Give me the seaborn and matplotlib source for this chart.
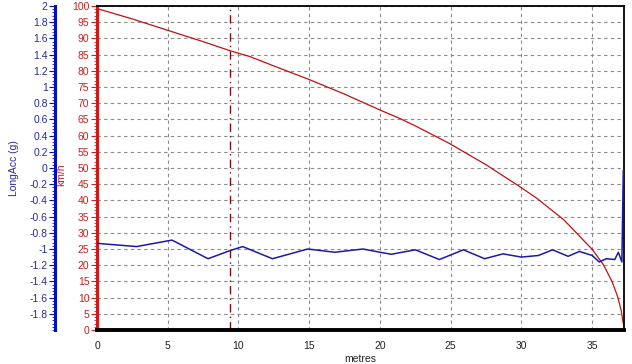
import matplotlib
matplotlib.use("Agg")
import matplotlib.pyplot as plt
from matplotlib.ticker import MultipleLocator, FuncFormatter
import seaborn as sns
import numpy as np
import pandas as pd

# speed trace (km/h) vs distance (m)
speed_dist = [0, 2.5, 5, 7.5, 9.4, 10.8, 12.5, 15, 17.5, 20, 21.4, 22.5, 24.9,
              27.5, 29.9, 31.1, 33, 35, 35.8, 36.4, 36.8, 37.05, 37.2]
speed_kmh = [99.2, 96.0, 92.5, 89.0, 86.2, 84.4, 81.5, 77.3, 72.8, 67.9, 65.3,
             63.0, 57.6, 51.0, 44.2, 40.6, 34.0, 24.9, 20.1, 15.0, 10.3, 6.0, 2.0]

# longitudinal acceleration (g) vs distance (m)
acc_dist = [0, 2.8, 5.3, 7.85, 9.4, 10.3, 12.4, 14.9, 16.8, 18.8, 20.0, 20.8,
            22.5, 24.2, 25.9, 27.4, 28.7, 30.0, 31.2, 32.2, 33.3, 34.1, 35.0,
            35.5, 36.0, 36.6, 36.85, 37.1, 37.2]
acc_g = [-0.93, -0.97, -0.89, -1.12, -1.02, -0.97, -1.12, -1.00, -1.04, -1.00,
         -1.04, -1.065, -1.01, -1.13, -1.01, -1.12, -1.06, -1.10, -1.08, -1.01,
         -1.09, -1.03, -1.08, -1.16, -1.12, -1.13, -1.04, -1.16, -0.03]

cursor_m = 9.4
x_ticks = [0, 5, 10, 15, 20, 25, 30, 35]
g_ticks = [-1.8, -1.6, -1.4, -1.2, -1, -0.8, -0.6, -0.4, -0.2, 0,
           0.2, 0.4, 0.6, 0.8, 1, 1.2, 1.4, 1.6, 1.8, 2]

sns.set_style("white")
plt.rcParams['font.family'] = ['Liberation Sans', 'DejaVu Sans']

red = "#cc1f1f"
blue = "#1a1aa6"
blue_txt = "#2a2a9a"

fig = plt.figure(figsize=(6.32, 3.64), dpi=100)
ax = fig.add_axes([97 / 632, 1 - 330 / 364, (624 - 97) / 632, (330 - 6) / 364])

speed_df = pd.DataFrame({"metres": speed_dist, "kmh": speed_kmh})
acc_df = pd.DataFrame({"metres": acc_dist, "g": acc_g})

sns.lineplot(data=speed_df, x="metres", y="kmh", ax=ax, color="#c41010", linewidth=0.9)
ax.set_xlim(0, 37.25)
ax.set_ylim(0, 100)
ax.set_xticks(x_ticks)
ax.xaxis.set_minor_locator(MultipleLocator(1))
ax.yaxis.set_major_locator(MultipleLocator(5))
ax.yaxis.set_minor_locator(MultipleLocator(1))
ax.grid(True, which="major", color="#8a8a8a", linestyle=(0, (3, 3)), linewidth=0.8)
ax.set_axisbelow(True)
ax.axvline(cursor_m, color="#7a1010", linestyle=(0, (6, 3, 1, 3)), linewidth=1.0)

ax.tick_params(axis="y", which="major", colors=red, labelsize=7.5, length=4, width=0.8, direction="out", pad=1.5)
ax.tick_params(axis="y", which="minor", colors=red, length=2, width=0.6)
ax.tick_params(axis="x", which="major", colors="black", labelsize=7.5, length=4, width=0.8, pad=4)
ax.tick_params(axis="x", which="minor", colors="black", length=2, width=0.6)
for lab in ax.get_xticklabels():
    lab.set_color("#222222")
ax.set_xlabel("metres", fontsize=7.5, color="#222222")
ax.xaxis.set_label_coords(0.5, -0.075)
ax.set_ylabel("km/h", fontsize=7.5, color=red)
ax.yaxis.set_label_coords(-0.058, 0.48)

ax.spines["left"].set_color("#d01818")
ax.spines["left"].set_linewidth(2.2)
ax.spines["bottom"].set_color("black")
ax.spines["bottom"].set_linewidth(2.8)
ax.spines["top"].set_color("black")
ax.spines["top"].set_linewidth(1.3)
ax.spines["right"].set_color("black")
ax.spines["right"].set_linewidth(1.3)

ax2 = ax.twinx()
sns.lineplot(data=acc_df, x="metres", y="g", ax=ax2, color=blue, linewidth=1.1)
ax2.set_ylim(-2, 2)
ax2.set_yticks(g_ticks)
ax2.yaxis.set_major_formatter(FuncFormatter(lambda v, _: f"{round(v, 1) + 0.0:g}"))
ax2.yaxis.set_minor_locator(MultipleLocator(0.04))
ax2.yaxis.set_ticks_position("left")
ax2.yaxis.set_label_position("left")
ax2.spines["left"].set_position(("outward", 30))
ax2.spines["left"].set_visible(True)
ax2.spines["left"].set_color("#0010c0")
ax2.spines["left"].set_linewidth(2.2)
ax2.spines["right"].set_visible(False)
ax2.spines["top"].set_visible(False)
ax2.spines["bottom"].set_visible(False)
ax2.tick_params(axis="y", which="major", colors="#0010c0", labelsize=7.5, length=4, width=0.8, pad=1.5)
ax2.tick_params(axis="y", which="minor", colors="#0010c0", length=2, width=0.6)
for lab in ax2.get_yticklabels():
    lab.set_color(blue_txt)
ax2.set_xlabel("")
ax2.set_ylabel("LongAcc (g)", fontsize=7.5, color=blue_txt)
ax2.yaxis.set_label_coords(-0.148, 0.5)

fig.savefig("out.png", dpi=100)
